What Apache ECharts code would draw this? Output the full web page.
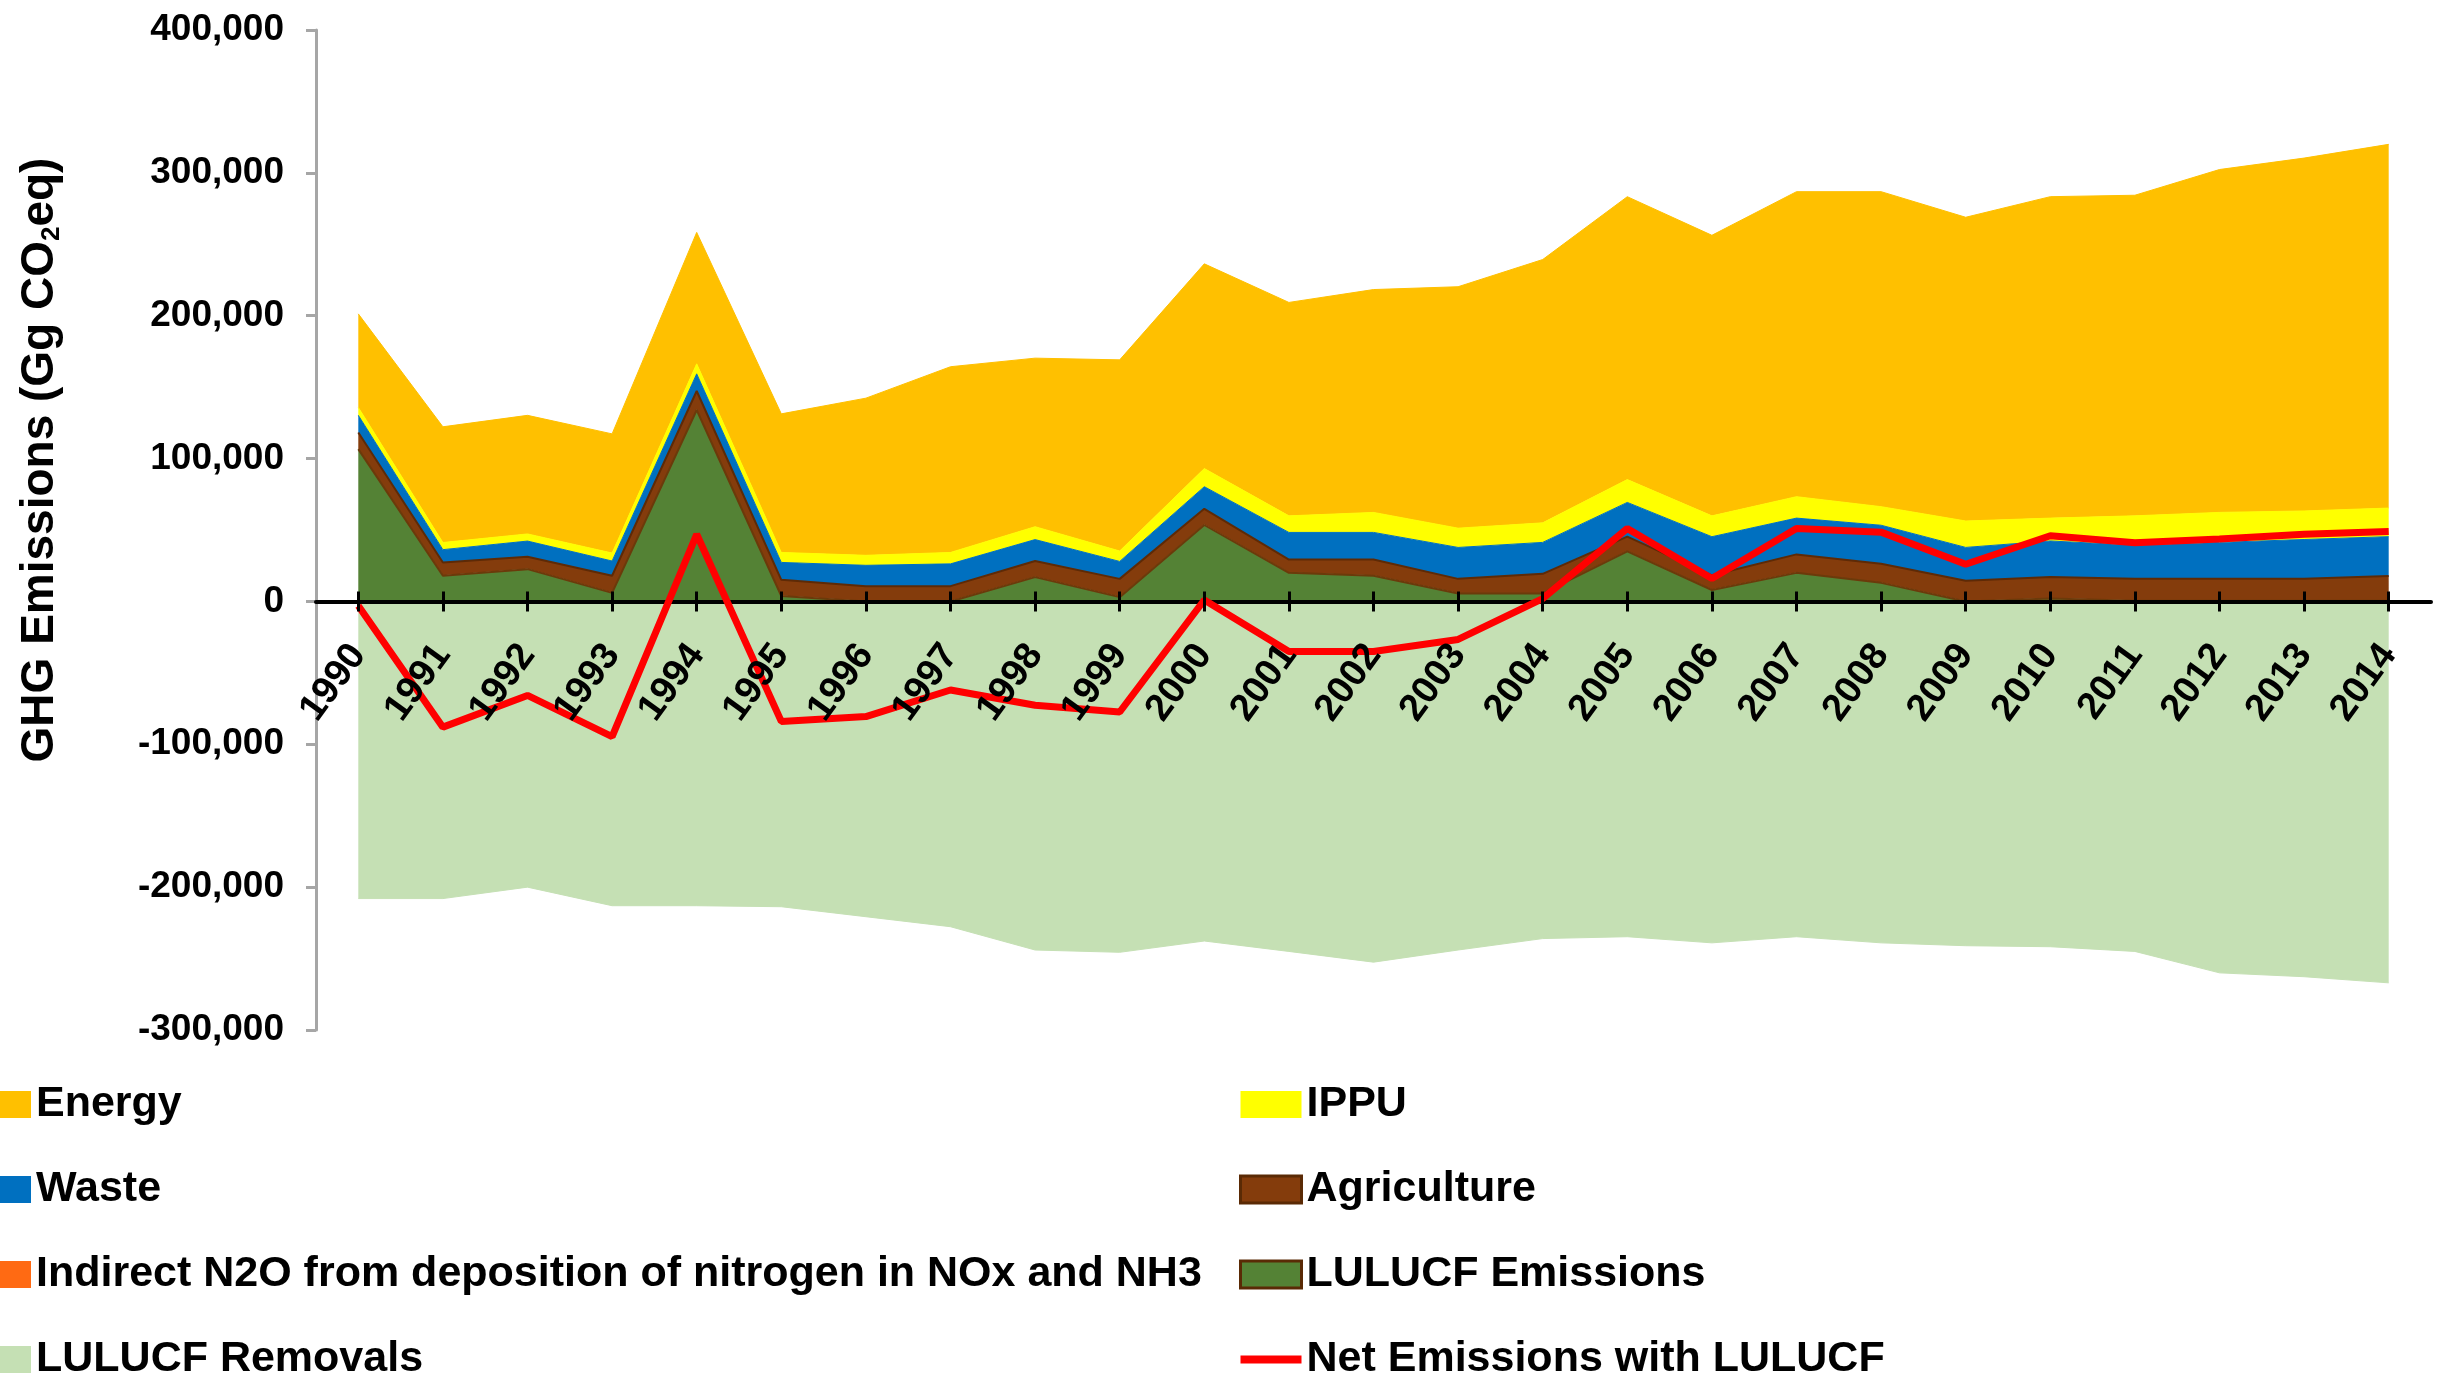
<!DOCTYPE html>
<html>
<head>
<meta charset="utf-8">
<script src="https://cdn.jsdelivr.net/npm/echarts@6/dist/echarts.min.js"></script>
<style>
html,body{margin:0;padding:0;background:#ffffff;}
#chart{width:2440px;height:1375px;}
</style>
</head>
<body>
<div id="chart"></div>
<script>
// ---- data (Gg CO2 eq) ----
const years = ['1990','1991','1992','1993','1994','1995','1996','1997','1998','1999','2000','2001','2002','2003','2004','2005','2006','2007','2008','2009','2010','2011','2012','2013','2014'];
const energy = [65500, 81000, 83000, 83400, 92000, 97000, 110000, 130000, 118000, 133800, 143300, 149400, 156000, 169000, 184300, 198000, 196400, 213500, 220500, 212600, 225000, 224400, 240000, 247000, 254600];
const ippu = [5500, 5000, 5000, 5600, 7000, 7000, 7000, 8000, 9000, 7300, 12700, 11600, 14000, 13500, 13700, 16000, 14600, 15000, 13000, 18500, 16000, 20600, 21000, 20000, 20000];
const waste = [12000, 9000, 11000, 10300, 12000, 12200, 14600, 15600, 15000, 12200, 15500, 19000, 19000, 22000, 22000, 24000, 27000, 25400, 27000, 23300, 25300, 23500, 25500, 27500, 27600];
const agriculture = [11400, 9000, 8400, 11700, 13000, 11000, 10400, 10400, 11000, 12500, 11000, 9000, 11000, 9900, 13400, 10000, 10000, 12600, 13000, 14200, 14700, 15000, 15000, 15000, 16900];
const indirectN2O = [300, 250, 250, 280, 320, 300, 280, 290, 300, 290, 310, 300, 310, 290, 320, 310, 300, 320, 330, 310, 320, 330, 330, 340, 350];
const lulucfEmissions = [106600, 18000, 22600, 6000, 134000, 3800, 0, 0, 17000, 3000, 53500, 20000, 18000, 5600, 5600, 35000, 8000, 20000, 13000, 0, 2000, 500, 500, 500, 500];
const lulucfRemovals = [-208000, -208000, -200000, -213000, -213000, -213700, -220700, -227700, -244000, -245600, -237700, -245000, -252500, -244000, -236000, -234700, -239000, -234700, -239000, -241000, -241700, -245000, -260000, -262700, -267000];
const netEmissions = [-3000, -88000, -65800, -94700, 47000, -84000, -80600, -62000, -72700, -77400, 1000, -35000, -35000, -26600, 2000, 51000, 16000, 51000, 48500, 26000, 46000, 41000, 43700, 47000, 49000];
const yTicks = [-300000, -200000, -100000, 0, 100000, 200000, 300000, 400000];

const FONT = "'Liberation Sans', Arial, Helvetica, sans-serif";
const chart = echarts.init(document.getElementById('chart'), null, {renderer: 'canvas'});

// plot geometry
const GRID_LEFT = 316, GRID_RIGHT = 9, GRID_TOP = 30, GRID_BOTTOM = 345;
const H = 1375;
const plotH = H - GRID_TOP - GRID_BOTTOM;
const yMin = yTicks[0], yMax = yTicks[yTicks.length - 1];
const zeroY = GRID_TOP + plotH * (yMax - 0) / (yMax - yMin);
const TICK_HALF = 10;

function areaSeries(name, data, color, stack, lineColor, lineWidth) {
  return {
    name: name,
    type: 'line',
    stack: stack,
    data: data,
    xAxisIndex: 0,
    yAxisIndex: 0,
    symbol: 'none',
    showSymbol: false,
    smooth: false,
    itemStyle: {color: color},
    lineStyle: {color: lineColor || color, width: lineWidth == null ? 1 : lineWidth},
    areaStyle: {color: color, opacity: 1},
    emphasis: {disabled: true},
    z: 2
  };
}

function fmt(v) {
  return v.toLocaleString('en-US');
}

const legendText = {fontSize: 43, fontWeight: 'bold', color: '#000000', fontFamily: FONT};

const option = {
  animation: false,
  backgroundColor: '#ffffff',
  grid: [
    {left: GRID_LEFT, right: GRID_RIGHT, top: GRID_TOP, bottom: GRID_BOTTOM, containLabel: false, outerBoundsMode: 'none'},
    // helper grid whose bottom edge sits just under the zero line: carries tick marks and year labels
    {left: GRID_LEFT, right: GRID_RIGHT, top: GRID_TOP, bottom: H - (zeroY + TICK_HALF), containLabel: false, outerBoundsMode: 'none'}
  ],
  xAxis: [{
    type: 'category',
    gridIndex: 0,
    data: years,
    boundaryGap: true,
    position: 'bottom',
    z: 5,
    axisLine: {show: true, onZero: true, lineStyle: {color: '#000000', width: 4}},
    axisTick: {show: false},
    axisLabel: {show: false},
    splitLine: {show: false}
  }, {
    type: 'category',
    gridIndex: 1,
    data: years,
    boundaryGap: true,
    position: 'bottom',
    z: 12,
    axisLine: {show: false, onZero: false},
    axisTick: {show: true, alignWithLabel: true, inside: true, length: 2 * TICK_HALF, lineStyle: {color: '#000000', width: 3}},
    axisLabel: {
      show: true, interval: 0, rotate: 54, margin: 37, hideOverlap: false,
      fontSize: 38, fontWeight: 'bold', color: '#000000', fontFamily: FONT
    },
    splitLine: {show: false}
  }],
  yAxis: [{
    type: 'value',
    gridIndex: 0,
    min: yMin,
    max: yMax,
    interval: yTicks[1] - yTicks[0],
    axisLine: {show: true, lineStyle: {color: '#A6A6A6', width: 3}},
    axisTick: {show: true, inside: false, length: 10, lineStyle: {color: '#A6A6A6', width: 3}},
    axisLabel: {
      show: true, margin: 32, fontSize: 37, fontWeight: 'bold', color: '#000000', fontFamily: FONT,
      showMinLabel: true, showMaxLabel: true,
      formatter: function (v) { return fmt(v); }
    },
    splitLine: {show: false}
  }, {
    type: 'value',
    gridIndex: 1,
    show: false,
    min: 0,
    max: 1
  }],
  legend: [{
    orient: 'vertical',
    left: -30,
    top: 1083,
    height: 340,
    padding: 0,
    itemWidth: 61,
    itemHeight: 27,
    itemGap: 42,
    selectedMode: false,
    textStyle: legendText,
    data: [
      {name: 'Energy', icon: 'rect', itemStyle: {borderWidth: 0}},
      {name: 'Waste', icon: 'rect', itemStyle: {borderWidth: 0}},
      {name: 'Indirect N2O from deposition of nitrogen in NOx and NH3', icon: 'rect', itemStyle: {borderWidth: 0}},
      {name: 'LULUCF Removals', icon: 'rect', itemStyle: {borderWidth: 0}}
    ]
  }, {
    orient: 'vertical',
    left: 1239,
    top: 1083,
    height: 340,
    padding: 0,
    itemWidth: 61,
    itemHeight: 27,
    itemGap: 42,
    selectedMode: false,
    textStyle: legendText,
    data: [
      {name: 'IPPU', icon: 'rect', itemStyle: {borderWidth: 0}},
      {name: 'Agriculture', icon: 'rect', itemStyle: {borderColor: '#5A2A05', borderWidth: 3}},
      {name: 'LULUCF Emissions', icon: 'rect', itemStyle: {borderColor: '#5A2A05', borderWidth: 3}},
      {name: 'Net Emissions with LULUCF', icon: 'path://M0,0 L61,0 L61,8 L0,8 Z', itemStyle: {borderWidth: 0, color: '#FF0000'}}
    ]
  }],
  graphic: [{
    type: 'text',
    x: 40,
    y: 460,
    rotation: Math.PI / 2,
    silent: true,
    style: {
      text: '{a|GHG Emissions (Gg CO}{s|2}{a|eq)}',
      align: 'center',
      verticalAlign: 'middle',
      fill: '#000000',
      rich: {
        a: {fontSize: 46, fontWeight: 'bold', fontFamily: FONT, lineHeight: 50, fill: '#000000'},
        s: {fontSize: 26, fontWeight: 'bold', fontFamily: FONT, lineHeight: 26, verticalAlign: 'bottom', fill: '#000000'}
      }
    }
  }],
  series: [
    areaSeries('LULUCF Emissions', lulucfEmissions, '#548235', 'pos', '#6B3A0A', 2),
    areaSeries('Indirect N2O from deposition of nitrogen in NOx and NH3', indirectN2O, '#FF6A13', 'pos', null, 0),
    areaSeries('Agriculture', agriculture, '#843C0C', 'pos', '#5E2A06', 2),
    areaSeries('Waste', waste, '#0070C0', 'pos'),
    areaSeries('IPPU', ippu, '#FFFF00', 'pos'),
    areaSeries('Energy', energy, '#FFC000', 'pos'),
    areaSeries('LULUCF Removals', lulucfRemovals, '#C5E0B4', 'neg'),
    {
      name: 'Net Emissions with LULUCF',
      type: 'line',
      data: netEmissions,
      xAxisIndex: 0,
      yAxisIndex: 0,
      symbol: 'none',
      showSymbol: false,
      itemStyle: {color: '#FF0000'},
      lineStyle: {color: '#FF0000', width: 7},
      emphasis: {disabled: true},
      z: 10
    }
  ]
};

chart.setOption(option);
</script>
</body>
</html>
